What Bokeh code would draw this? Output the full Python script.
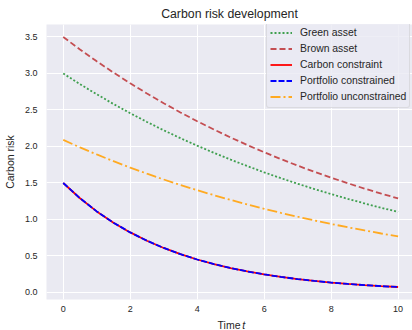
from bokeh.plotting import figure
from bokeh.models import Label, Legend, LegendItem, FixedTicker, PrintfTickFormatter
from bokeh.layouts import column
from bokeh.embed import file_html
from bokeh.resources import INLINE

# ---- data ----
time_t = [0.0, 0.5, 1.0, 1.5, 2.0, 2.5, 3.0, 3.5, 4.0, 4.5, 5.0,
          5.5, 6.0, 6.5, 7.0, 7.5, 8.0, 8.5, 9.0, 9.5, 10.0]
green_asset = [3.000, 2.854, 2.715, 2.582, 2.456, 2.336, 2.222, 2.114, 2.011, 1.913, 1.820,
               1.731, 1.646, 1.566, 1.490, 1.417, 1.348, 1.282, 1.220, 1.160, 1.104]
brown_asset = [3.500, 3.329, 3.167, 3.012, 2.866, 2.726, 2.593, 2.466, 2.346, 2.232, 2.123,
               2.019, 1.921, 1.827, 1.738, 1.653, 1.573, 1.496, 1.423, 1.354, 1.288]
carbon_constraint = [1.500, 1.291, 1.111, 0.956, 0.823, 0.709, 0.610, 0.525, 0.452, 0.389, 0.335,
                     0.288, 0.248, 0.213, 0.184, 0.158, 0.136, 0.117, 0.101, 0.087, 0.075]
portfolio_constrained = [1.500, 1.291, 1.111, 0.956, 0.823, 0.709, 0.610, 0.525, 0.452, 0.389, 0.335,
                         0.288, 0.248, 0.213, 0.184, 0.158, 0.136, 0.117, 0.101, 0.087, 0.075]
portfolio_unconstrained = [2.090, 1.988, 1.891, 1.799, 1.711, 1.628, 1.548, 1.473, 1.401, 1.333, 1.268,
                           1.206, 1.147, 1.091, 1.038, 0.987, 0.939, 0.893, 0.850, 0.808, 0.769]
x_ticks = [0, 2, 4, 6, 8, 10]
y_ticks = [0.0, 0.5, 1.0, 1.5, 2.0, 2.5, 3.0, 3.5]

FONT = "Liberation Sans"
TXT = "#262626"

p = figure(width=412, height=316, x_range=(-0.5, 10.43), y_range=(-0.096, 3.671),
           output_backend="svg", toolbar_location=None,
           min_border_left=46, min_border_right=0, min_border_top=23, min_border_bottom=17,
           background_fill_color="#EAEAF2", border_fill_color="white",
           title="Carbon risk development")
p.outline_line_color = None
p.title.align = "center"
p.title.text_font = FONT
p.title.text_font_size = "12.3px"
p.title.text_font_style = "normal"
p.title.text_color = TXT
p.title.standoff = 8

for ax in (p.xaxis[0], p.yaxis[0]):
    ax.axis_line_color = None
    ax.major_tick_line_color = None
    ax.minor_tick_line_color = None
    ax.major_tick_out = 0
    ax.major_tick_in = 0
    ax.minor_tick_out = 0
    ax.minor_tick_in = 0
    ax.major_label_text_font = FONT
    ax.major_label_text_font_size = "9px"
    ax.major_label_text_color = TXT
    ax.axis_label_text_font = FONT
    ax.axis_label_text_font_size = "10.5px"
    ax.axis_label_text_font_style = "normal"
    ax.axis_label_text_color = TXT

p.xaxis.ticker = FixedTicker(ticks=x_ticks)
p.yaxis.ticker = FixedTicker(ticks=y_ticks)
p.yaxis.formatter = PrintfTickFormatter(format="%.1f")
p.xaxis.major_label_standoff = 6
p.yaxis.major_label_standoff = 9
p.yaxis.axis_label = "Carbon risk"
p.yaxis.axis_label_standoff = 6

p.xgrid.ticker = FixedTicker(ticks=x_ticks)
p.ygrid.ticker = FixedTicker(ticks=y_ticks)
p.grid.grid_line_color = "white"
p.grid.grid_line_width = 1

lw = 1.8
r_green = p.line(time_t, green_asset, line_color="#3f9f4f", line_width=lw, line_dash="2 2")
r_brown = p.line(time_t, brown_asset, line_color="#C44E52", line_width=lw, line_dash="6 3")
r_red = p.line(time_t, carbon_constraint, line_color="#ff0000", line_width=lw)
r_blue = p.line(time_t, portfolio_constrained, line_color="#0000ff", line_width=lw, line_dash="6 2")
r_orange = p.line(time_t, portfolio_unconstrained, line_color="#ffaa22", line_width=lw,
                  line_dash="10 3 2 3")

legend = Legend(items=[
    LegendItem(label="Green asset", renderers=[r_green]),
    LegendItem(label="Brown asset", renderers=[r_brown]),
    LegendItem(label="Carbon constraint", renderers=[r_red]),
    LegendItem(label="Portfolio constrained", renderers=[r_blue]),
    LegendItem(label="Portfolio unconstrained", renderers=[r_orange]),
], location=(220, 191))
legend.label_text_font = FONT
legend.label_text_font_size = "10.4px"
legend.label_text_color = TXT
legend.glyph_width = 22
legend.glyph_height = 15
legend.label_height = 15
legend.label_standoff = 8
legend.spacing = 1
legend.padding = 3
legend.margin = 0
legend.background_fill_color = "#EAEAF2"
legend.background_fill_alpha = 0.8
legend.border_line_color = "#cccccc"
legend.border_line_width = 1
legend.border_radius = 3
p.add_layout(legend, "center")

# strip below the plot holding the x axis label "Time t" (italic t);
# its frame is aligned with the main frame (left edge at 46 px)
p2 = figure(width=412, height=14, x_range=(0, 366), y_range=(0, 14),
            x_axis_location=None, y_axis_location=None,
            output_backend="svg", toolbar_location=None, min_border=0,
            min_border_left=46, min_border_right=0, min_border_top=0, min_border_bottom=0,
            background_fill_color="white", border_fill_color="white")
p2.outline_line_color = None
p2.grid.visible = False
lab1 = Label(x=194, y=0, x_units="screen", y_units="screen", text="Time",
             text_align="right", text_baseline="bottom",
             text_font=FONT, text_font_size="10.5px", text_color=TXT)
lab2 = Label(x=195.8, y=0, x_units="screen", y_units="screen", text="t",
             text_align="left", text_baseline="bottom",
             text_font=FONT, text_font_size="10.5px",
             text_font_style="italic", text_color=TXT)
p2.add_layout(lab1)
p2.add_layout(lab2)

layout = column(p, p2, spacing=0)
open("out.html", "w").write(file_html(layout, INLINE))
